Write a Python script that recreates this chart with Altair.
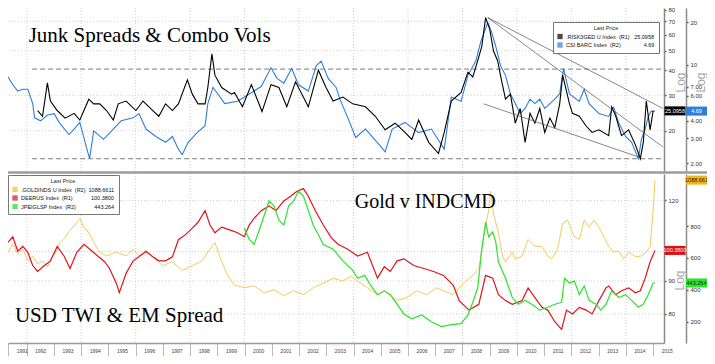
import altair as alt
import pandas as pd

# ---------------- data ----------------
BLK_T = [1992.40,1992.58,1992.76,1992.87,1993.12,1993.41,1993.74,1993.95,1994.28,1994.46,1994.68,1994.93,1995.18,1995.36,1995.65,1996.01,1996.27,1996.63,1996.85,1997.10,1997.35,1997.57,1997.90,1998.08,1998.29,1998.55,1998.65,1998.80,1998.91,1999.16,1999.52,1999.63,1999.92,2000.25,2000.64,2000.97,2001.26,2001.55,2001.87,2002.34,2002.71,2002.99,2003.25,2003.61,2003.97,2004.44,2004.80,2005.16,2005.53,2005.89,2006.14,2006.39,2006.76,2007.12,2007.33,2007.59,2007.95,2008.20,2008.38,2008.56,2008.71,2008.85,2009.00,2009.14,2009.29,2009.43,2009.58,2009.76,2009.94,2010.12,2010.30,2010.48,2010.66,2010.84,2011.02,2011.21,2011.39,2011.57,2011.68,2011.93,2012.04,2012.29,2012.54,2012.76,2013.01,2013.37,2013.48,2013.63,2013.84,2014.10,2014.35,2014.53,2014.64,2014.75,2014.89,2015.00]
BLK_V = [25.2,23.6,34.6,28.1,25.2,23.1,24.4,22.6,28.7,27.2,27.2,25.2,22.6,27.2,28.1,25.2,28.1,25.2,23.6,27.2,25.2,27.2,35.8,30.4,27.2,27.2,32.8,48.2,37.8,32.8,30.4,31.0,26.3,33.9,24.9,33.9,32.8,26.3,35.0,26.3,40.0,32.8,28.1,29.4,27.2,26.3,23.6,20.2,21.8,19.6,18.1,22.6,17.5,15.4,19.6,28.1,31.0,39.1,37.0,44.6,52.6,73.1,64.1,49.8,44.6,35.8,28.7,30.4,21.8,25.8,17.5,24.4,21.8,25.8,19.6,23.1,20.7,27.2,37.8,27.2,24.4,23.6,21.1,19.6,20.2,18.9,26.3,23.6,18.9,20.2,17.0,14.5,17.5,28.1,20.2,25.0958]

BLU_T = [1991.31,1991.49,1991.67,1991.86,1992.04,1992.22,1992.29,1992.51,1992.76,1993.01,1993.19,1993.55,1993.74,1993.95,1994.21,1994.31,1994.46,1994.82,1995.18,1995.47,1995.91,1996.12,1996.38,1996.74,1997.10,1997.35,1997.57,1997.71,1997.93,1998.26,1998.55,1998.65,1998.84,1999.02,1999.27,1999.74,2000.17,2000.61,2000.97,2001.19,2001.44,2001.73,2001.98,2002.34,2002.63,2002.81,2003.07,2003.36,2003.50,2003.79,2004.08,2004.44,2004.95,2005.16,2005.42,2005.89,2006.39,2006.86,2007.33,2007.59,2007.95,2008.20,2008.49,2008.67,2008.93,2009.07,2009.22,2009.40,2009.58,2009.76,2009.94,2010.12,2010.30,2010.48,2010.66,2010.84,2011.02,2011.21,2011.39,2011.57,2011.71,2011.93,2012.29,2012.47,2012.65,2013.01,2013.37,2013.55,2013.73,2013.99,2014.21,2014.46,2014.57,2014.71,2014.82,2014.93,2015.07]
BLU_V = [8.2,7.2,6.5,6.7,6.7,5.3,4.2,4.0,4.4,4.5,3.9,3.2,3.5,3.9,2.52,2.16,3.4,2.96,3.5,4.0,4.2,4.5,3.5,3.1,2.82,3.1,2.52,2.30,2.82,3.3,3.7,5.3,6.9,6.2,5.3,5.5,6.2,7.0,9.5,8.0,7.4,9.4,7.2,6.5,9.8,10.6,8.0,6.9,5.7,4.2,3.05,3.5,2.70,2.41,3.5,3.9,3.3,3.5,2.52,5.9,5.5,8.4,10.6,14.5,19.9,17.0,13.5,9.8,8.4,6.2,5.3,4.5,4.9,5.7,5.3,5.7,4.9,5.3,5.7,6.2,9.4,6.2,5.5,6.7,5.3,4.5,4.3,5.0,3.9,3.1,2.82,2.16,2.96,3.5,4.3,4.7,4.69]

RED_T = [1991.31,1991.49,1991.67,1991.86,1992.04,1992.22,1992.40,1992.65,1992.87,1993.12,1993.37,1993.59,1993.84,1994.10,1994.32,1994.64,1994.86,1995.04,1995.29,1995.40,1995.65,1995.91,1996.12,1996.38,1996.63,1996.85,1997.10,1997.35,1997.57,1997.82,1998.08,1998.29,1998.55,1998.73,1998.91,1999.16,1999.45,1999.74,1999.99,2000.17,2000.35,2000.61,2000.90,2001.15,2001.44,2001.69,2001.91,2002.16,2002.34,2002.60,2002.89,2003.18,2003.43,2003.79,2004.15,2004.51,2004.88,2005.13,2005.35,2005.60,2005.85,2006.21,2006.58,2006.94,2007.30,2007.66,2007.88,2008.24,2008.60,2008.85,2009.11,2009.32,2009.58,2009.83,2010.19,2010.41,2010.66,2010.92,2011.13,2011.39,2011.64,2011.82,2012.04,2012.29,2012.54,2012.76,2013.01,2013.27,2013.37,2013.63,2013.84,2014.10,2014.35,2014.53,2014.71,2014.89,2015.07]
RED_V = [103.3,105.4,100.1,101.8,99.7,95.1,93.1,95.1,96.7,101.8,98.4,94.1,99.7,102.6,100.8,98.1,96.4,94.1,89.3,86.3,92.5,96.7,98.1,100.1,98.1,96.7,96.7,98.1,104.3,106.1,108.7,111.0,115.7,109.9,106.9,109.1,108.0,106.9,105.4,109.9,112.6,115.7,117.7,115.7,119.8,121.8,123.9,125.2,121.8,115.7,109.9,105.1,102.6,100.8,98.4,99.7,90.9,94.7,93.1,96.7,97.4,95.1,94.1,93.1,91.8,88.7,83.9,81.1,82.8,91.8,90.9,85.7,83.9,82.8,83.9,87.8,84.8,81.9,81.1,77.8,75.7,81.1,80.0,81.9,81.1,80.0,83.9,87.8,88.4,85.7,86.9,87.8,86.3,86.9,90.9,96.4,100.38]

YEL_T = [1991.31,1991.49,1991.67,1991.86,1992.04,1992.22,1992.40,1992.58,1992.76,1992.94,1993.12,1993.23,1993.41,1993.59,1993.77,1993.95,1994.10,1994.21,1994.39,1994.46,1994.68,1994.93,1995.29,1995.65,1995.91,1996.12,1996.38,1996.63,1996.99,1997.35,1997.71,1998.08,1998.44,1998.65,1998.91,1999.16,1999.38,1999.63,1999.99,2000.35,2000.72,2001.08,2001.44,2001.80,2002.16,2002.52,2002.89,2003.25,2003.61,2003.90,2004.15,2004.51,2004.88,2005.13,2005.60,2005.96,2006.32,2006.68,2007.05,2007.30,2007.66,2007.88,2008.13,2008.38,2008.60,2008.78,2008.96,2009.03,2009.14,2009.32,2009.47,2009.58,2009.83,2009.94,2010.19,2010.41,2010.66,2010.92,2011.13,2011.28,2011.49,2011.68,2011.86,2012.00,2012.11,2012.29,2012.47,2012.65,2012.83,2013.01,2013.19,2013.37,2013.55,2013.74,2013.92,2014.10,2014.35,2014.57,2014.75,2014.89,2015.00,2015.07]
YEL_V = [637,685,625,655,582,613,564,582,546,607,655,697,728,776,806,849,788,776,728,697,637,613,637,613,655,613,637,607,552,576,522,552,582,637,697,576,491,431,413,425,382,400,364,394,370,413,443,473,455,485,455,413,370,394,334,352,394,370,413,394,370,413,455,491,534,734,897,1019,879,758,613,576,637,594,613,716,673,673,613,594,655,819,837,776,734,716,837,794,837,794,734,673,637,643,594,637,607,613,637,673,897,1088.661]

GRN_T = [1999.99,2000.17,2000.35,2000.54,2000.72,2000.90,2001.08,2001.26,2001.44,2001.62,2001.80,2001.98,2002.16,2002.34,2002.52,2002.71,2002.89,2003.25,2003.61,2003.97,2004.15,2004.41,2004.62,2004.88,2005.13,2005.35,2005.60,2005.85,2006.14,2006.50,2006.86,2007.23,2007.59,2007.95,2008.20,2008.38,2008.56,2008.71,2008.85,2008.96,2009.11,2009.22,2009.32,2009.58,2009.83,2010.05,2010.30,2010.55,2010.84,2011.13,2011.39,2011.64,2011.75,2011.93,2012.11,2012.29,2012.47,2012.65,2012.90,2013.08,2013.27,2013.48,2013.74,2013.99,2014.21,2014.46,2014.64,2014.82,2015.00,2015.07]
GRN_V = [788,716,685,776,867,958,928,837,806,928,958,1019,988,897,806,746,685,655,582,522,473,491,431,370,394,370,310,249,219,243,200,170,182,188,243,322,413,655,825,734,764,703,576,473,352,310,334,310,273,291,310,322,473,443,455,370,425,334,310,273,310,394,352,370,334,291,310,370,443,443.264]

# annotation lines on the junk-spread (R1) scale
TREND_ID = ["a", "a", "b", "b", "c", "c"]
TREND_T = [2008.93, 2015.36, 2008.93, 2015.36, 2008.78, 2014.53]
TREND_V = [73.1, 25.8, 73.1, 16.6, 27.2, 14.7]
DASH_LEVEL = [40.5, 14.5]
DASH_FROM = [1992.20, 1992.20]
DASH_TO = [2015.40, 2015.40]

GRID_YEARS = list(range(1992, 2015, 2))
XTICK_YEARS = [1991.32] + list(range(1992, 2016))
TOP_GRID = [20, 30, 50, 70]
BOT_GRID = [80, 90, 100, 120]
TOP_R1_TICKS = [20, 30, 40, 50, 60, 70, 80]
TOP_R2_TICKS = [2, 3, 4, 6, 7, 10, 20]      # 5.00 sits under the last-price tag
BOT_R1_TICKS = [80, 90, 120]                # 100 sits under the last-price tag
BOT_R2_TICKS = [200, 400, 600, 800]

NB = "\u00a0"
TOP_LEG = [".RISK3GED U Index" + NB * 2 + "(R1)" + NB * 3 + "25.0958",
           "CSI BARC Index" + NB * 2 + "(R2)" + NB * 15 + "4.69"]
BOT_LEG = [".GOLDINDS U Index" + NB * 2 + "(R2)" + NB * 2 + "1088.6611",
           "DEERUS Index" + NB * 2 + "(R1)" + NB * 12 + "100.3800",
           "JPEIGLSP Index" + NB * 2 + "(R2)" + NB * 12 + "443.264"]

TITLE_TOP = "Junk Spreads & Combo Vols"
TITLE_GOLD = "Gold v INDCMD"
TITLE_USD = "USD TWI & EM Spread"

# ---------------- styling / layout ----------------
BLACK, BLUE = "#000000", "#2f7ed8"
RED, YELLOW, GREEN = "#e3121b", "#f0c44a", "#2ee22e"
W, H = 656, 335
TOP_RANGE = [163, 0]
BOT_RANGE = [335, 166]
FONT = "Liberation Sans"


def sc(which):
    if which == "t1":
        return alt.Scale(type="log", domain=[12.6, 81.6], range=TOP_RANGE, nice=False)
    if which == "t2":
        return alt.Scale(type="log", domain=[1.765, 25.2], range=TOP_RANGE, nice=False)
    if which == "b1":
        return alt.Scale(type="log", domain=[72.1, 131.9], range=BOT_RANGE, nice=False)
    return alt.Scale(type="linear", domain=[66.7, 1127], range=BOT_RANGE, nice=False, zero=False)


def yax(values, offset, title=None, tx=0, ty=0, expr=None):
    kw = dict(orient="right", values=values, offset=offset, tickSize=2, tickWidth=1.5,
              tickColor="#555", domainColor="#8a8a8a", domainWidth=1.5,
              labelFontSize=6, labelFont=FONT, labelColor="#333", labelPadding=2,
              labelOverlap=False, grid=False)
    if expr:
        kw["labelExpr"] = expr
    else:
        kw["format"] = "d"
    if title:
        kw.update(title=title, titleX=tx, titleY=ty, titleAngle=270, titleAlign="center",
                  titleBaseline="middle", titleFontSize=12, titleColor="#a8a8a8",
                  titleFont=FONT, titleFontWeight="normal")
    else:
        kw["title"] = None
    return alt.Axis(**kw)


def Y(which, axis=None):
    return alt.Y("v:Q", scale=sc(which), axis=axis)


x_axis = alt.Axis(values=XTICK_YEARS, labelExpr="floor(datum.value) + ''", tickSize=13,
                  tickColor="#b8b8b8", tickWidth=1, domainColor="#999999", domainWidth=1.5,
                  labelFontSize=5, labelFont=FONT, labelColor="#444", labelOffset=13.6,
                  labelPadding=-8, labelOverlap=False, labelFlush=False, grid=False, title=None)


def X():
    return alt.X("t:Q", scale=alt.Scale(domain=[1991.313, 2015.40], nice=False, zero=False),
                 axis=x_axis)


def df(t, v):
    return pd.DataFrame({"t": t, "v": v})


one = pd.DataFrame({"k": [0]})
layers = []

# grids
layers.append(alt.Chart(pd.DataFrame({"t": GRID_YEARS})).mark_rule(
    color="#c4c4c4", strokeDash=[1, 2], strokeWidth=0.8).encode(x=X()))
layers.append(alt.Chart(pd.DataFrame({"v": TOP_GRID})).mark_rule(
    color="#c4c4c4", strokeDash=[1, 2], strokeWidth=0.8).encode(y=Y("t1")))
layers.append(alt.Chart(pd.DataFrame({"v": BOT_GRID})).mark_rule(
    color="#c4c4c4", strokeDash=[1, 2], strokeWidth=0.8).encode(y=Y("b1")))

# dashed levels
layers.append(alt.Chart(pd.DataFrame({"t": DASH_FROM, "t2": DASH_TO, "v": DASH_LEVEL})).mark_rule(
    color="#7a7a7a", strokeDash=[5, 3], strokeWidth=1).encode(x=X(), x2="t2:Q", y=Y("t1")))

# top series
layers.append(alt.Chart(df(BLU_T, BLU_V)).mark_line(color=BLUE, strokeWidth=1.1).encode(
    x=X(), y=Y("t2", yax(TOP_R2_TICKS, 22, "Log", 14.5, 74,
                         "datum.value < 10 ? format(datum.value, '.2f') : format(datum.value, 'd')"))))
layers.append(alt.Chart(df(BLK_T, BLK_V)).mark_line(color=BLACK, strokeWidth=1.1).encode(
    x=X(), y=Y("t1", yax(TOP_R1_TICKS, 0, "Log", 16, 74))))

# trend lines
layers.append(alt.Chart(pd.DataFrame({"t": TREND_T, "v": TREND_V, "g": TREND_ID})).mark_line(
    color="#555555", strokeWidth=0.7).encode(x=X(), y=Y("t1"), detail="g:N"))

# bottom series
layers.append(alt.Chart(df(YEL_T, YEL_V)).mark_line(color=YELLOW, strokeWidth=0.9).encode(
    x=X(), y=Y("b2", yax(BOT_R2_TICKS, 22))))
layers.append(alt.Chart(df(RED_T, RED_V)).mark_line(color=RED, strokeWidth=1.2).encode(
    x=X(), y=Y("b1", yax(BOT_R1_TICKS, 0, "Log", 15.5, 272))))
layers.append(alt.Chart(df(GRN_T, GRN_V)).mark_line(color=GREEN, strokeWidth=1.2).encode(
    x=X(), y=Y("b2")))

# panel separator
layers.append(alt.Chart(one).mark_rule(color="#9b9b9b", strokeWidth=2.5).encode(
    x=alt.value(0), x2=alt.value(W + 43), y=alt.value(164.5)))

# last-price tags
TAG = "M-1,-0.43L1,-0.43L1,0.43L-1,0.43Z"
for val, txt, which, bg, fg, cx in [
        (25.0958, "25.0958", "t1", BLACK, "white", 667),
        (4.69, "4.69", "t2", BLUE, "white", 688.5),
        (1088.661, "1088.661", "b2", "#f0b420", "#222", 688.5),
        (100.38, "100.3800", "b1", "#e01010", "white", 667),
        (443.264, "443.264", "b2", "#2ee22e", "#222", 688.5)]:
    d = pd.DataFrame({"v": [val], "lbl": [txt]})
    layers.append(alt.Chart(d).mark_point(shape=TAG, filled=True, size=441, opacity=1,
                                          color=bg, strokeWidth=0).encode(
        x=alt.value(cx), y=Y(which)))
    layers.append(alt.Chart(d).mark_text(color=fg, fontSize=5.5, font=FONT, align="center",
                                         baseline="middle").encode(
        x=alt.value(cx), y=Y(which), text="lbl:N"))

# titles
for txt, px, py, fs in [(TITLE_TOP, 20.7, 33.6, 21), (TITLE_GOLD, 346.7, 199.8, 20),
                        (TITLE_USD, 6.9, 313.8, 21)]:
    layers.append(alt.Chart(pd.DataFrame({"s": [txt]})).mark_text(
        align="left", baseline="alphabetic", font="Liberation Serif", fontSize=fs,
        color="black").encode(x=alt.value(px), y=alt.value(py), text="s:N"))


# legends (dummy off-canvas marks carry the colour scales)
def legend(x, y):
    return alt.Legend(orient="none", legendX=x, legendY=y, title="Last Price",
                      titleFontSize=5.5, titleFont=FONT, titleFontWeight="normal",
                      titleColor="#222", titleAnchor="middle", titlePadding=2,
                      labelFontSize=5.5, labelFont=FONT, labelColor="#111",
                      symbolType="square", symbolSize=28, symbolStrokeWidth=0,
                      rowPadding=1.5, padding=4, fillColor="white", strokeColor="#777",
                      labelOffset=3)


layers.append(alt.Chart(pd.DataFrame({"lbl": TOP_LEG})).mark_square(size=28, filled=True).encode(
    x=alt.value(-60), y=alt.value(-60),
    color=alt.Color("lbl:N", scale=alt.Scale(domain=TOP_LEG, range=[BLACK, BLUE]),
                    legend=legend(545, 14))))
layers.append(alt.Chart(pd.DataFrame({"lbl": BOT_LEG})).mark_square(size=28, filled=True).encode(
    x=alt.value(-60), y=alt.value(-60),
    color=alt.Color("lbl:N", scale=alt.Scale(domain=BOT_LEG, range=["#f0c020", "#e01010", "#22dd22"]),
                    legend=legend(0, 167))))

chart = alt.layer(*layers).resolve_scale(y="independent", color="independent").properties(
    width=W, height=H, autosize=alt.AutoSizeParams(type="none"),
    padding={"left": 0, "top": 0, "right": 43, "bottom": 13}, background="white"
).configure_view(stroke="transparent")

chart.save("out.html", embed_options={"renderer": "svg", "actions": False})
